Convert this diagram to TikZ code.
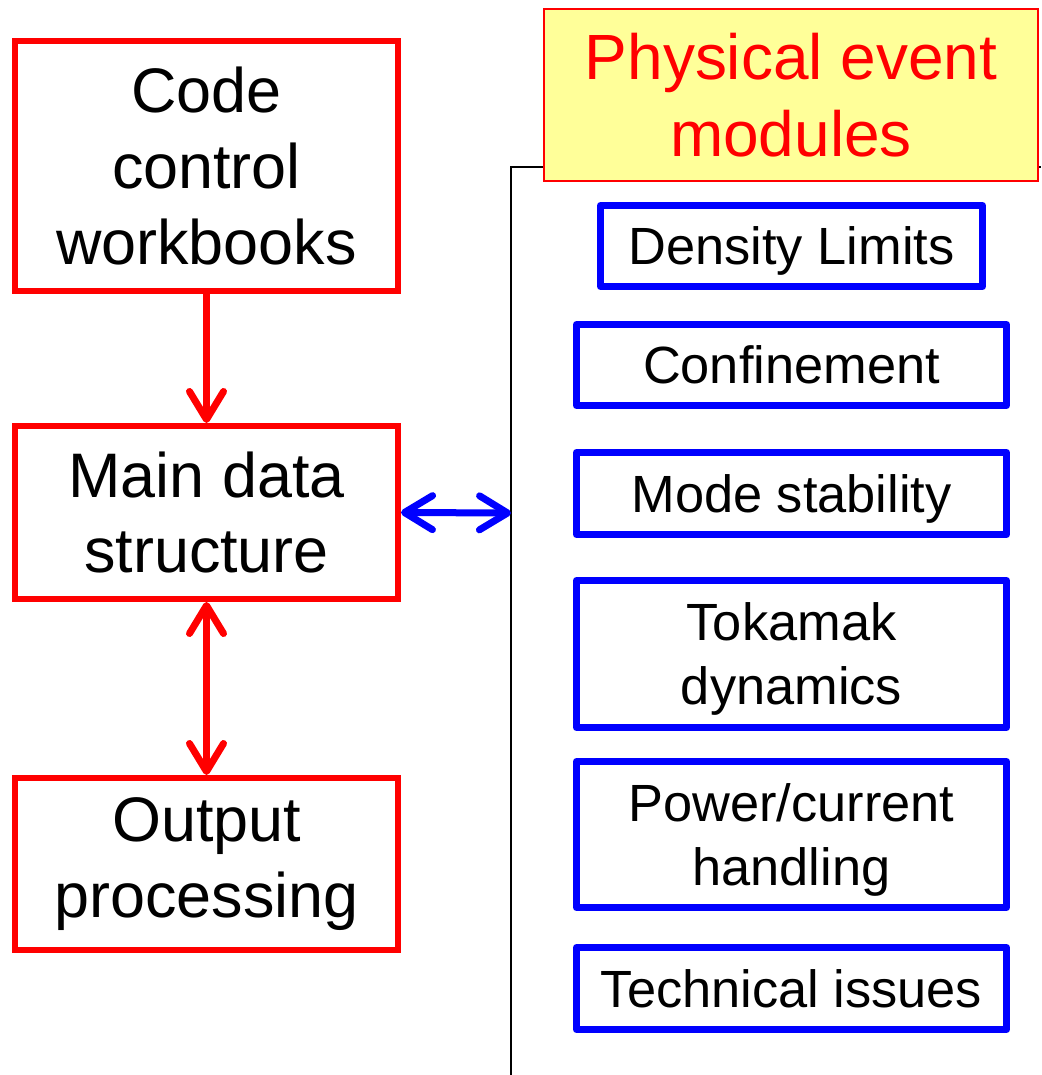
\documentclass[tikz,border=0pt]{standalone}
\usepackage{fontspec}
\setmainfont{Liberation Sans}
\usetikzlibrary{arrows.meta}
\definecolor{flowred}{RGB}{255,0,0}
\definecolor{flowblue}{RGB}{0,0,255}
\definecolor{flowyellow}{RGB}{255,255,153}

\begin{document}
\begin{tikzpicture}[>={Straight Barb[length=0.28cm,width=0.34cm,round]},
        redbox/.style={draw=flowred,line width=0.06cm,minimum width=3.83cm,inner sep=0pt,align=center,font=\fontsize{17.9}{21.6}\selectfont},
        bluebox/.style={draw=flowblue,line width=0.07cm,line join=round,minimum width=4.30cm,inner sep=0pt,text depth=0pt,align=center,font=\fontsize{14.9}{18.2}\selectfont},
        ]
        \useasboundingbox (0,0) rectangle (10.41,-10.75);
        % left column
        \node[redbox,minimum height=2.50cm] (code) at (2.065,-1.66) {Code\\control\\workbooks};
        \node[redbox,minimum height=1.73cm] (main) at (2.065,-5.125) {Main data\\structure};
        \node[redbox,minimum height=1.72cm] (output) at (2.065,-8.64) {Output\\processing};
        \draw[->,flowred,line width=0.07cm] (code)--(main);
        \draw[<->,flowred,line width=0.07cm] (main)--(output);
        % module bus
        \coordinate (busbot) at (5.11,-10.75);
        \coordinate (buscorner) at (5.11,-1.67);
        \coordinate (busend) at (10.41,-1.67);
        \coordinate (busjoin) at (5.11,-5.13);
        \draw[black,line width=0.02cm] (busbot)--(buscorner)--(busend);
        \draw[<->,flowblue,line width=0.07cm] (main.east)--(busjoin);
        % right column
        \node[draw=flowred,line width=0.02cm,fill=flowyellow,text=flowred,minimum width=4.94cm,minimum height=1.72cm,inner sep=0pt,align=center,font=\fontsize{18.2}{21.9}\selectfont] (modules) at (7.91,-0.95) {Physical event\\modules};
        \node[bluebox,minimum width=3.82cm,minimum height=0.81cm] (density) at (7.915,-2.46) {Density Limits};
        \node[bluebox,minimum height=0.81cm] (confine) at (7.915,-3.65) {Confinement};
        \node[bluebox,minimum height=0.82cm] (mode) at (7.915,-4.935) {Mode stability};
        \node[bluebox,minimum height=1.47cm] (tokamak) at (7.915,-6.54) {Tokamak\\dynamics};
        \node[bluebox,minimum height=1.46cm] (power) at (7.915,-8.345) {Power/current\\handling};
        \node[bluebox,minimum height=0.82cm] (technical) at (7.915,-9.885) {Technical issues};
    \end{tikzpicture}
\end{document}
